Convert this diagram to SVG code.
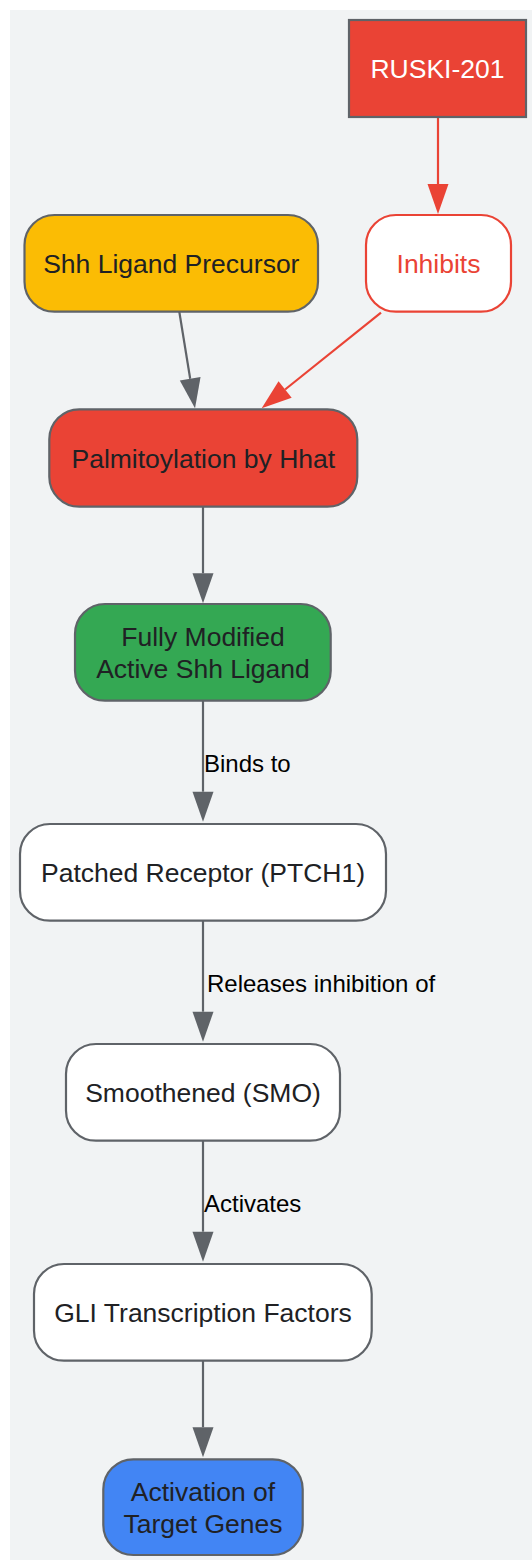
<svg xmlns="http://www.w3.org/2000/svg" width="532" height="1560" viewBox="0 0 532 1560">
<style>
.node{stroke:#5f6368;stroke-width:2.2}
.nt{font-family:"Liberation Sans",Arial,sans-serif;font-size:26.5px;fill:#202124;text-anchor:middle}
.el{font-family:"Liberation Sans",Arial,sans-serif;font-size:24px;fill:#000000}
.e{fill:none;stroke:#5f6368;stroke-width:2.2}
.er{fill:none;stroke:#ea4335;stroke-width:2.2}
</style>
<defs>
<marker id="ag" markerUnits="userSpaceOnUse" markerWidth="30" markerHeight="21" refX="0" refY="10.5" orient="auto" overflow="visible">
<path d="M0,0 L30,10.5 L0,21 Z" fill="#5f6368"/>
</marker>
<marker id="ar" markerUnits="userSpaceOnUse" markerWidth="30" markerHeight="21" refX="0" refY="10.5" orient="auto" overflow="visible">
<path d="M0,0 L30,10.5 L0,21 Z" fill="#ea4335"/>
</marker>
</defs>
<rect x="10" y="10" width="522" height="1550" fill="#f1f3f4"/>
<g id="connectors">
<line class="er" x1="438" y1="117" x2="438" y2="184" marker-end="url(#ar)"/>
<line class="e" x1="179.3" y1="311.7" x2="190.2" y2="378.7" marker-end="url(#ag)"/>
<line class="er" x1="381" y1="312.7" x2="285.1" y2="389.5" marker-end="url(#ar)"/>
<line class="e" x1="203" y1="506.7" x2="203" y2="573.3" marker-end="url(#ag)"/>
<line class="e" x1="203" y1="700.7" x2="203" y2="791.7" marker-end="url(#ag)"/>
<text class="el" x="204" y="771.7">Binds to</text>
<line class="e" x1="203" y1="920.7" x2="203" y2="1011.7" marker-end="url(#ag)"/>
<text class="el" x="207" y="991.7">Releases inhibition of</text>
<line class="e" x1="203" y1="1140.7" x2="203" y2="1231.7" marker-end="url(#ag)"/>
<text class="el" x="204" y="1211.7">Activates</text>
<line class="e" x1="203" y1="1360.7" x2="203" y2="1427.3" marker-end="url(#ag)"/>
</g>
<g id="ruski">
<rect class="node" x="349" y="20" width="177" height="97" fill="#ea4335"/>
<text class="nt" x="437.5" y="78.3" style="fill:#ffffff">RUSKI-201</text>
</g>
<g id="inhibits">
<rect x="366" y="215" width="145" height="96.7" rx="30" fill="#ffffff" stroke="#ea4335" stroke-width="2.2"/>
<text class="nt" x="438.5" y="273.3" style="fill:#ea4335">Inhibits</text>
</g>
<g id="shh">
<rect class="node" x="24.5" y="215" width="293.5" height="96.7" rx="30" fill="#fbbc04"/>
<text class="nt" x="171.3" y="273.3">Shh Ligand Precursor</text>
</g>
<g id="palm">
<rect class="node" x="49.3" y="409.3" width="308" height="97.4" rx="30" fill="#ea4335"/>
<text class="nt" x="203.3" y="467.7">Palmitoylation by Hhat</text>
</g>
<g id="fully">
<rect class="node" x="75" y="604" width="255.7" height="96.7" rx="30" fill="#34a853"/>
<text class="nt" x="203" y="645.7">Fully Modified</text>
<text class="nt" x="203" y="677.7">Active Shh Ligand</text>
</g>
<g id="ptch1">
<rect class="node" x="20" y="824" width="366" height="96.7" rx="30" fill="#ffffff"/>
<text class="nt" x="203" y="881.7">Patched Receptor (PTCH1)</text>
</g>
<g id="smo">
<rect class="node" x="66" y="1044" width="274" height="96.7" rx="30" fill="#ffffff"/>
<text class="nt" x="203" y="1101.7">Smoothened (SMO)</text>
</g>
<g id="gli">
<rect class="node" x="34" y="1264" width="337.7" height="96.7" rx="30" fill="#ffffff"/>
<text class="nt" x="203" y="1321.7">GLI Transcription Factors</text>
</g>
<g id="act">
<rect class="node" x="103.3" y="1459.3" width="199.4" height="95.7" rx="30" fill="#4285f4"/>
<text class="nt" x="203" y="1501">Activation of</text>
<text class="nt" x="203" y="1532.7">Target Genes</text>
</g>
</svg>
